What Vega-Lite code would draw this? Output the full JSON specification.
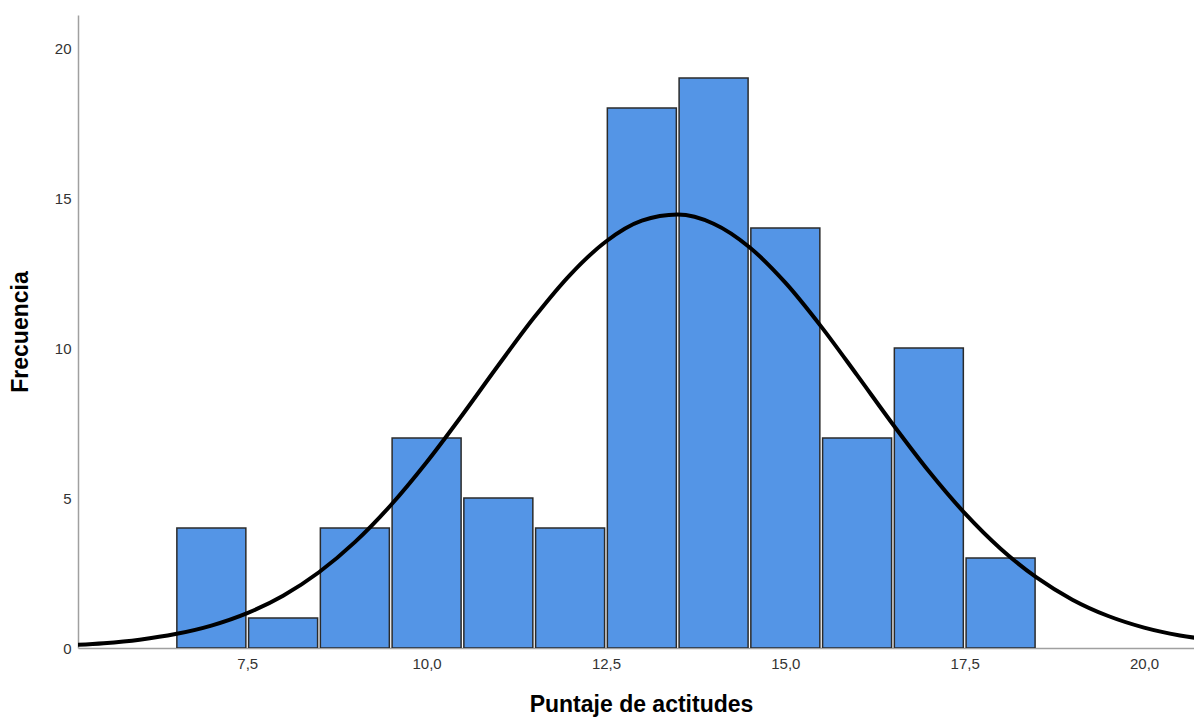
{
  "$schema": "https://vega.github.io/schema/vega-lite/v6.json",
  "autosize": {"type": "none"},
  "padding": {"left": 78, "top": 15, "right": 0, "bottom": 72},
  "width": 1116,
  "height": 633,
  "background": "white",
  "config": {
    "view": {"stroke": null},
    "font": "Liberation Sans",
    "axis": {
      "grid": false,
      "ticks": false,
      "domainColor": "#a0a0a0",
      "domainWidth": 1.5,
      "labelFont": "Liberation Sans",
      "labelFontSize": 15,
      "labelColor": "#333333",
      "titleFont": "Liberation Sans",
      "titleFontSize": 23,
      "titleFontWeight": "bold",
      "titleColor": "#000000"
    }
  },
  "datasets": {
    "bars": [
      {"score": 7, "freq": 4},
      {"score": 8, "freq": 1},
      {"score": 9, "freq": 4},
      {"score": 10, "freq": 7},
      {"score": 11, "freq": 5},
      {"score": 12, "freq": 4},
      {"score": 13, "freq": 18},
      {"score": 14, "freq": 19},
      {"score": 15, "freq": 14},
      {"score": 16, "freq": 7},
      {"score": 17, "freq": 10},
      {"score": 18, "freq": 3}
    ],
    "curve": [
      {"score": 5.0, "freq": 0.0895},
      {"score": 5.5, "freq": 0.1605},
      {"score": 6.0, "freq": 0.2777},
      {"score": 6.5, "freq": 0.4638},
      {"score": 7.0, "freq": 0.7472},
      {"score": 7.5, "freq": 1.1619},
      {"score": 8.0, "freq": 1.7435},
      {"score": 8.5, "freq": 2.5246},
      {"score": 9.0, "freq": 3.5282},
      {"score": 9.5, "freq": 4.7579},
      {"score": 10.0, "freq": 6.1919},
      {"score": 10.5, "freq": 7.7763},
      {"score": 11.0, "freq": 9.4245},
      {"score": 11.5, "freq": 11.0226},
      {"score": 12.0, "freq": 12.4409},
      {"score": 12.5, "freq": 13.5506},
      {"score": 13.0, "freq": 14.2432},
      {"score": 13.5, "freq": 14.4474},
      {"score": 14.0, "freq": 14.1421},
      {"score": 14.5, "freq": 13.359},
      {"score": 15.0, "freq": 12.178},
      {"score": 15.5, "freq": 10.7132},
      {"score": 16.0, "freq": 9.095},
      {"score": 16.5, "freq": 7.4512},
      {"score": 17.0, "freq": 5.8909},
      {"score": 17.5, "freq": 4.4945},
      {"score": 18.0, "freq": 3.3091},
      {"score": 18.5, "freq": 2.3512},
      {"score": 19.0, "freq": 1.6121},
      {"score": 19.5, "freq": 1.0667},
      {"score": 20.0, "freq": 0.6812},
      {"score": 20.5, "freq": 0.4197},
      {"score": 21.0, "freq": 0.2496}
    ]
  },
  "layer": [
    {
      "data": {"name": "bars"},
      "mark": {"type": "bar", "size": 69, "color": "#5495e6", "stroke": "#2b2b2b", "strokeWidth": 1.5, "clip": true},
      "encoding": {
        "x": {
          "field": "score", "type": "quantitative",
          "scale": {"domain": [5.211, 20.626], "nice": false, "zero": false},
          "axis": {
            "title": "Puntaje de actitudes",
            "values": [7.5, 10, 12.5, 15, 17.5, 20],
            "labelExpr": "replace(format(datum.value, '.1f'), '.', ',')",
            "labelPadding": 8,
            "titlePadding": 22,
            "titleX": 563
          }
        },
        "y": {
          "field": "freq", "type": "quantitative",
          "scale": {"domain": [0, 21.1], "nice": false},
          "axis": {
            "title": "Frecuencia",
            "values": [0, 5, 10, 15, 20],
            "labelPadding": 7,
            "titlePadding": 22
          }
        }
      }
    },
    {
      "data": {"name": "curve"},
      "mark": {"type": "line", "color": "#000000", "strokeWidth": 4, "interpolate": "monotone", "clip": true},
      "encoding": {
        "x": {"field": "score", "type": "quantitative"},
        "y": {"field": "freq", "type": "quantitative"}
      }
    }
  ]
}
